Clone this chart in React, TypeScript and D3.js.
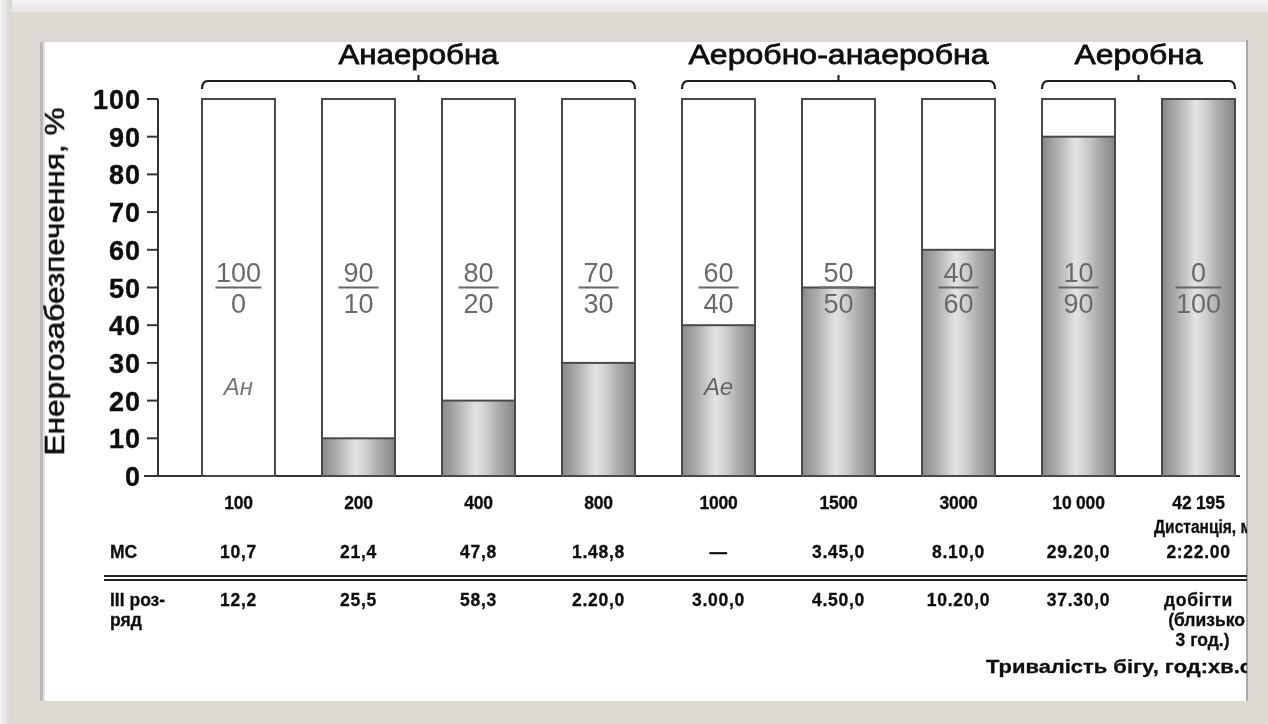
import React from "react";
import * as d3 from "d3";

// Distances (m) and the aerobic / anaerobic share of energy supply, %
const distances = ["100", "200", "400", "800", "1000", "1500", "3000", "10 000", "42 195"];
const aerobicShare = [0, 10, 20, 30, 40, 50, 60, 90, 100];
const anaerobicShare = [100, 90, 80, 70, 60, 50, 40, 10, 0];

// Running times for "МС" and "III розряд"
const msTimes = ["10,7", "21,4", "47,8", "1.48,8", "—", "3.45,0", "8.10,0", "29.20,0", "2:22.00"];
const thirdTimes = ["12,2", "25,5", "58,3", "2.20,0", "3.00,0", "4.50,0", "10.20,0", "37.30,0", "добігти"];

// Energy zones spanning groups of distances
const zoneNames = ["Анаеробна", "Аеробно-анаеробна", "Аеробна"];
const zoneFirst = ["100", "1000", "10 000"];
const zoneLast = ["800", "3000", "42 195"];
const zoneWidths = [160, 300, 128];

const yTicks = [0, 10, 20, 30, 40, 50, 60, 70, 80, 90, 100];

const W = 1268;
const H = 724;
const FONT = "'Liberation Sans', Arial, Helvetica, sans-serif";

export default function App() {
  const x = d3
    .scaleBand<string>()
    .domain(distances)
    .range([202, 1235])
    .paddingInner(0.392)
    .paddingOuter(0);
  const y = d3.scaleLinear().domain([0, 100]).range([476, 99]);
  const bw = x.bandwidth();
  const cx = (d: string) => (x(d) as number) + bw / 2;

  const axisX = 158;
  const panel = { x0: 40, y0: 40, x1: 1248, y1: 701 };

  const rowDist = 509;
  const rowMs = 558;
  const rowThird = 606;

  const tableText = {
    fontSize: 17.5,
    fontWeight: 700,
    fill: "#111",
    stroke: "#111",
    strokeWidth: 0.3,
  } as const;

  return (
    <svg
      width={W}
      height={H}
      style={{ position: "absolute", left: 0, top: 0, display: "block" }}
      fontFamily={FONT}
    >
      <defs>
        <linearGradient id="barFill" x1="0" x2="1" y1="0" y2="0">
          <stop offset="0%" stopColor="#8a8a8a" />
          <stop offset="22%" stopColor="#b0b0b0" />
          <stop offset="46%" stopColor="#e4e4e4" />
          <stop offset="58%" stopColor="#d2d2d2" />
          <stop offset="80%" stopColor="#a6a6a6" />
          <stop offset="100%" stopColor="#868686" />
        </linearGradient>
        <linearGradient id="topBand" x1="0" x2="0" y1="0" y2="1">
          <stop offset="0%" stopColor="#f4f4f4" />
          <stop offset="100%" stopColor="#e4e4e4" />
        </linearGradient>
        <linearGradient id="leftShade" x1="0" x2="1" y1="0" y2="0">
          <stop offset="0%" stopColor="#f2f2f2" />
          <stop offset="100%" stopColor="#d4d4d4" />
        </linearGradient>
        <filter id="soft" x="-5%" y="-5%" width="110%" height="110%">
          <feGaussianBlur stdDeviation="0.6" />
        </filter>
        <clipPath id="panelClip">
          <rect x={panel.x0} y={panel.y0} width={panel.x1 - panel.x0 - 1} height={panel.y1 - panel.y0} />
        </clipPath>
      </defs>

      {/* page backdrop and frame */}
      <rect x={0} y={0} width={W} height={H} fill="#f1f1f1" />
      <rect x={0} y={0} width={W} height={12} fill="url(#topBand)" />
      <rect x={0} y={0} width={12} height={H} fill="url(#leftShade)" />
      <rect x={10} y={10} width={W - 10} height={H - 10} rx={2} fill="#dcdad3" />
      <rect x={10} y={10} width={W - 10} height={2} fill="#e9e8e3" />

      {/* white panel with bevelled edges */}
      <rect x={panel.x0} y={panel.y0} width={panel.x1 - panel.x0} height={panel.y1 - panel.y0} fill="#ffffff" />
      <rect x={panel.x0} y={panel.y0} width={3} height={panel.y1 - panel.y0} fill="#b8b8b8" />
      <rect x={panel.x0 + 3} y={panel.y0} width={2} height={panel.y1 - panel.y0} fill="#e2e2e2" />
      <rect x={panel.x0} y={panel.y0} width={panel.x1 - panel.x0} height={2} fill="#d6d6d6" />
      <rect x={panel.x1 - 2} y={panel.y0} width={2} height={panel.y1 - panel.y0} fill="#a8a8a8" />

      <g clipPath="url(#panelClip)" filter="url(#soft)">
        {/* zone brackets */}
        {zoneNames.map((name, i) => {
          const a = x(zoneFirst[i]) as number;
          const b = (x(zoneLast[i]) as number) + bw;
          const m = (a + b) / 2;
          const by = 81;
          return (
            <g key={name}>
              <path
                d={`M${a},${by + 8} Q${a},${by} ${a + 6},${by} L${b - 6},${by} Q${b},${by} ${b},${by + 8}`}
                fill="none"
                stroke="#1a1a1a"
                strokeWidth={2.2}
              />
              <line x1={m} x2={m} y1={by} y2={by - 6} stroke="#1a1a1a" strokeWidth={2} />
              <text
                x={m}
                y={64}
                textAnchor="middle"
                fontSize={28}
                fill="#111"
                stroke="#111"
                strokeWidth={0.8}
                textLength={zoneWidths[i]}
                lengthAdjust="spacingAndGlyphs"
              >
                {name}
              </text>
            </g>
          );
        })}

        {/* y axis */}
        <line x1={axisX} x2={axisX} y1={y(100)} y2={y(0)} stroke="#333" strokeWidth={2} />
        {yTicks.map((t) => (
          <g key={t}>
            <line x1={axisX - 11} x2={axisX} y1={y(t)} y2={y(t)} stroke="#333" strokeWidth={2} />
            <text
              x={141}
              y={y(t) + 10}
              textAnchor="end"
              fontSize={27}
              fontWeight={700}
              fill="#111"
              stroke="#111"
              strokeWidth={0.4}
              letterSpacing={1}
            >
              {t}
            </text>
          </g>
        ))}
        <text
          transform={`translate(64,${(y(0) + y(100)) / 2 - 6}) rotate(-90)`}
          textAnchor="middle"
          fontSize={27}
          fill="#111"
          stroke="#111"
          strokeWidth={0.6}
          textLength={348}
          lengthAdjust="spacingAndGlyphs"
        >
          Енергозабезпечення, %
        </text>

        {/* baseline */}
        <line x1={144} x2={1240} y1={y(0)} y2={y(0)} stroke="#333" strokeWidth={2} />

        {/* bars: white anaerobic part over gradient aerobic part */}
        {distances.map((d, i) => {
          const x0 = x(d) as number;
          return (
            <g key={d}>
              <rect
                x={x0}
                y={y(100)}
                width={bw}
                height={y(0) - y(100)}
                fill="#fff"
                stroke="#4a4a4a"
                strokeWidth={2}
              />
              {aerobicShare[i] > 0 && (
                <rect
                  x={x0}
                  y={y(aerobicShare[i])}
                  width={bw}
                  height={y(0) - y(aerobicShare[i])}
                  fill="url(#barFill)"
                  stroke="#4a4a4a"
                  strokeWidth={2}
                />
              )}
            </g>
          );
        })}

        {/* ratio labels anaerobic / aerobic */}
        {distances.map((d, i) => {
          const c = cx(d);
          const ly = y(50);
          const half = anaerobicShare[i] === 100 || aerobicShare[i] === 100 ? 23 : 20;
          return (
            <g key={`f-${d}`} fill="#6a6a6a">
              <text x={c} y={ly - 6} textAnchor="middle" fontSize={27}>
                {anaerobicShare[i]}
              </text>
              <line x1={c - half} x2={c + half} y1={ly} y2={ly} stroke="#666" strokeWidth={2.2} />
              <text x={c} y={ly + 25} textAnchor="middle" fontSize={27}>
                {aerobicShare[i]}
              </text>
            </g>
          );
        })}
        <text x={cx("100")} y={y(24) + 9} textAnchor="middle" fontSize={24} fontStyle="italic" fill="#777">
          Ан
        </text>
        <text x={cx("1000")} y={y(24) + 9} textAnchor="middle" fontSize={24} fontStyle="italic" fill="#666">
          Ае
        </text>

        {/* distance labels */}
        {distances.map((d) => (
          <text key={`d-${d}`} x={cx(d)} y={rowDist} textAnchor="middle" {...tableText} letterSpacing={-0.2}>
            {d}
          </text>
        ))}
        <text x={1252} y={533} textAnchor="end" {...tableText} textLength={98} lengthAdjust="spacingAndGlyphs">
          Дистанція, м
        </text>

        {/* time table */}
        <text x={110} y={rowMs} {...tableText}>
          МС
        </text>
        {distances.map((d, i) => (
          <text key={`ms-${d}`} x={cx(d)} y={rowMs} textAnchor="middle" {...tableText} letterSpacing={0.7}>
            {msTimes[i]}
          </text>
        ))}
        <line x1={104} x2={1248} y1={576} y2={576} stroke="#222" strokeWidth={1.8} />
        <line x1={104} x2={1248} y1={580} y2={580} stroke="#222" strokeWidth={1.8} />

        <text x={110} y={rowThird} {...tableText}>
          III роз-
        </text>
        <text x={110} y={rowThird + 20} {...tableText}>
          ряд
        </text>
        {distances.map((d, i) => (
          <text key={`t-${d}`} x={cx(d)} y={rowThird} textAnchor="middle" {...tableText} letterSpacing={0.7}>
            {thirdTimes[i]}
          </text>
        ))}
        <text x={cx("42 195") + 8} y={rowThird + 20} textAnchor="middle" {...tableText}>
          (близько
        </text>
        <text x={cx("42 195") + 4} y={rowThird + 40} textAnchor="middle" {...tableText}>
          3 год.)
        </text>
        <text x={1252} y={673} textAnchor="end" {...tableText} textLength={266} lengthAdjust="spacingAndGlyphs">
          Тривалість бігу, год:хв.с
        </text>
      </g>
    </svg>
  );
}
